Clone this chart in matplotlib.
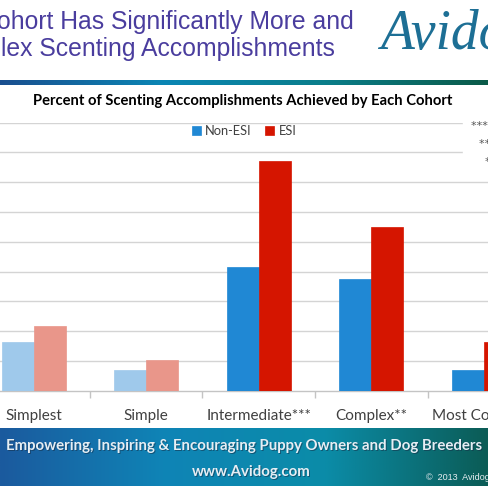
import numpy as np
import matplotlib
matplotlib.use("Agg")
import matplotlib.pyplot as plt
from matplotlib.colors import LinearSegmentedColormap
from matplotlib.patches import Rectangle

# Data (percent of accomplishments)
categories = ["Simplest", "Simple", "Intermediate***", "Complex**", "Most Complex*"]
non_esi = [8.2, 3.4, 20.7, 18.7, 3.4]
esi = [10.9, 5.1, 38.6, 27.5, 8.1]
faded = [True, True, False, False, False]
sig_notes = ["*** p < 0.001", "** p < 0.01", "* p < 0.05"]

W, H = 488, 487
BLUE, RED = "#2088d4", "#d51500"
BLUE_L, RED_L = "#9fc9eb", "#e9968a"
FONT = "Lato"


def fx(px):
    return px / W


def fy(py):
    return 1 - py / H


fig = plt.figure(figsize=(W / 100, H / 100), dpi=100)
fig.patch.set_facecolor("white")

# Slide title (cropped on the left)
title_c = "#4a3d9e"
fig.text(fx(-3), fy(22), "ohort Has Significantly More and", fontsize=17.8,
         family="Liberation Sans", color=title_c, va="center", ha="left")
fig.text(fx(1), fy(49), "lex Scenting Accomplishments", fontsize=17.8,
         family="Liberation Sans", color=title_c, va="center", ha="left")
fig.text(fx(380), fy(35), "Avidog", fontsize=40, family="Liberation Serif",
         style="italic", color="#1d6f95", va="center", ha="left")

# Gradient rule under the title
rule_cmap = LinearSegmentedColormap.from_list(
    "rule", ["#1a4f8f", "#0b86b4", "#0a7e8a", "#0a5a48"])
ax_rule = fig.add_axes([0, fy(85), 1, 5 / H])
ax_rule.imshow(np.linspace(0, 1, 256)[None, :], aspect="auto", cmap=rule_cmap)
ax_rule.axis("off")

# Chart title
fig.text(fx(243), fy(101), "Percent of Scenting Accomplishments Achieved by Each Cohort",
         fontsize=10.6, weight="bold", family=FONT, color="black",
         ha="center", va="center")

# Main axes
step_px = 112.6
x0 = -33.6 / step_px
ax = fig.add_axes([0, fy(390.7), 1, 268 / H])
ax.set_xlim(x0, x0 + W / step_px)
ax.set_ylim(0, 45)

x = np.arange(len(categories))
bw = 0.284
for i in x:
    cb = BLUE_L if faded[i] else BLUE
    cr = RED_L if faded[i] else RED
    ax.bar(i - bw / 2, non_esi[i], bw, color=cb, edgecolor=cb, linewidth=0.5, zorder=3,
           label="Non-ESI" if i == 2 else None)
    ax.bar(i + bw / 2, esi[i], bw, color=cr, edgecolor=cr, linewidth=0.5, zorder=3,
           label="ESI" if i == 2 else None)

ax.set_yticks(np.arange(5, 46, 5))
ax.yaxis.grid(True, color="#d4d4d4", linewidth=1.0, zorder=0)
ax.set_axisbelow(True)
ax.tick_params(axis="y", length=0, labelleft=False)
for s in ["top", "left", "right"]:
    ax.spines[s].set_visible(False)
ax.spines["bottom"].set_color("#c4c4c4")
ax.spines["bottom"].set_linewidth(1.0)

ax.set_xticks(x)
ax.set_xticklabels(categories, fontsize=11, family=FONT, color="#404040")
ax.set_xticks(x[:-1] + 0.5, minor=True)
ax.tick_params(axis="x", which="major", length=0, pad=13.5)
ax.tick_params(axis="x", which="minor", length=5, color="#c4c4c4", width=1)

ax.legend(loc="center", bbox_to_anchor=(fx(244), fy(131)),
          bbox_transform=fig.transFigure, ncol=2, frameon=False,
          handlelength=0.7, handleheight=0.7, handletextpad=0.35,
          columnspacing=1.0, prop={"family": FONT, "size": 9.3},
          labelcolor="#404040")

# Significance notes box on the right (cropped)
fig.patches.append(Rectangle((fx(463), fy(172)), fx(30), 58 / H,
                             transform=fig.transFigure, color="white", zorder=5))
for k, (note, px) in enumerate(zip(sig_notes, [471, 479, 485])):
    fig.text(fx(px), fy(126 + 18 * k), note, fontsize=8, family="DejaVu Sans",
             color="#555555", va="center", ha="left", zorder=6)

# Footer banner
ban_cmap = LinearSegmentedColormap.from_list(
    "banner", ["#1b5a9e", "#0f84b6", "#0b8ca8", "#0b5c56"])
ax_ban = fig.add_axes([0, fy(486), 1, 58 / H])
ax_ban.imshow(np.linspace(0, 1, 256)[None, :], aspect="auto", cmap=ban_cmap)
ax_ban.axis("off")

for dx, dy, col, a in [(1, 1, "#163048", 0.55), (0, 0, "#e6eef4", 1.0)]:
    fig.text(fx(244 + dx), fy(446 + dy),
             "Empowering, Inspiring & Encouraging Puppy Owners and Dog Breeders",
             fontsize=10.8, family=FONT, weight="bold", color=col, alpha=a,
             ha="center", va="center")
    fig.text(fx(251 + dx), fy(472 + dy), "www.Avidog.com", fontsize=10.8,
             family=FONT, weight="bold", color=col, alpha=a,
             ha="center", va="center")
fig.text(fx(426), fy(477), "\u00a9  2013  Avidog", fontsize=6.5,
         family="Liberation Sans", color="#e8eef2", ha="left", va="center")

fig.savefig("out.png", dpi=100)
